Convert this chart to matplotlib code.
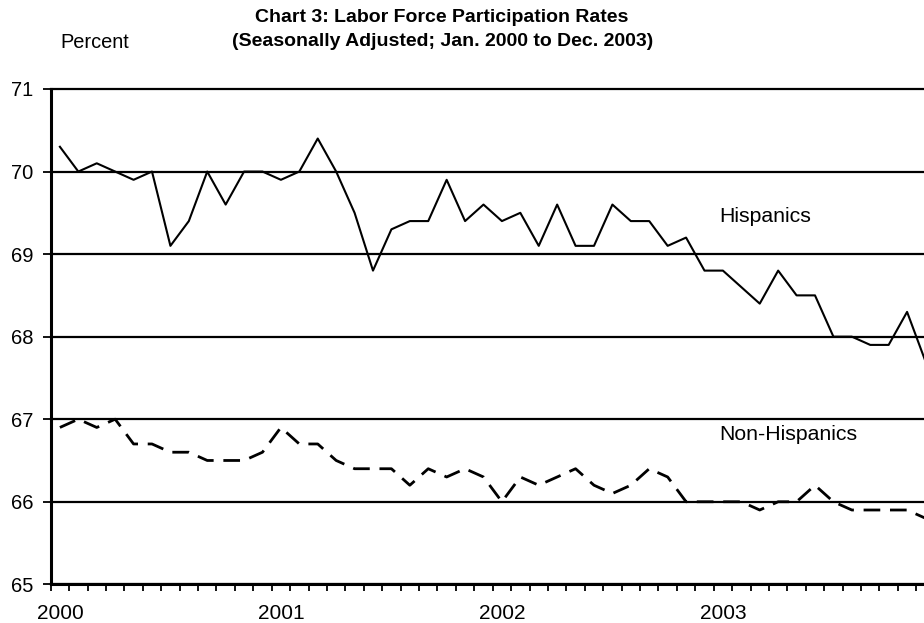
import matplotlib
matplotlib.use("Agg")
import matplotlib.pyplot as plt
import numpy as np

plt.rcParams["font.family"] = ["Liberation Sans", "DejaVu Sans"]

# monthly values, Jan 2000 .. Dec 2003
hispanics = [
    70.3, 70.0, 70.1, 70.0, 69.9, 70.0, 69.1, 69.4, 70.0, 69.6, 70.0, 70.0,
    69.9, 70.0, 70.4, 70.0, 69.5, 68.8, 69.3, 69.4, 69.4, 69.9, 69.4, 69.6,
    69.4, 69.5, 69.1, 69.6, 69.1, 69.1, 69.6, 69.4, 69.4, 69.1, 69.2, 68.8,
    68.8, 68.6, 68.4, 68.8, 68.5, 68.5, 68.0, 68.0, 67.9, 67.9, 68.3, 67.7,
]
non_hispanics = [
    66.9, 67.0, 66.9, 67.0, 66.7, 66.7, 66.6, 66.6, 66.5, 66.5, 66.5, 66.6,
    66.9, 66.7, 66.7, 66.5, 66.4, 66.4, 66.4, 66.2, 66.4, 66.3, 66.4, 66.3,
    66.0, 66.3, 66.2, 66.3, 66.4, 66.2, 66.1, 66.2, 66.4, 66.3, 66.0, 66.0,
    66.0, 66.0, 65.9, 66.0, 66.0, 66.2, 66.0, 65.9, 65.9, 65.9, 65.9, 65.8,
]
years = ["2000", "2001", "2002", "2003"]
y_ticks = [65, 66, 67, 68, 69, 70, 71]


def plot():
    fig = plt.figure(figsize=(9.24, 6.23), dpi=100)
    ax = fig.add_axes([50.7 / 924, 38.7 / 623, 884 / 924, 495.3 / 623])

    x = np.arange(len(hispanics))
    ax.plot(x, hispanics, color="black", lw=1.5, zorder=3)
    ax.plot(x, non_hispanics, color="black", lw=2.0, dashes=(6, 3.5), zorder=3)

    ax.set_xlim(-0.5, 47.5)
    ax.set_ylim(65, 71)
    ax.set_yticks(y_ticks)
    ax.set_yticklabels([str(v) for v in y_ticks], fontsize=14.5)
    ax.set_xticks([0, 12, 24, 36])
    ax.set_xticklabels(years, fontsize=15)
    ax.set_xticks(np.arange(-0.5, 48, 1), minor=True)
    ax.tick_params(axis="x", which="major", length=0, pad=14.5)
    ax.tick_params(axis="x", which="minor", length=5, width=1.3, direction="out")
    ax.tick_params(axis="y", length=6, width=1.3, direction="out", pad=6.5)

    ax.yaxis.grid(True, color="black", lw=1.6)
    for line in ax.get_ygridlines():
        line.set_clip_on(False)
    for side in ("top", "right"):
        ax.spines[side].set_visible(False)
    for side in ("left", "bottom"):
        ax.spines[side].set_linewidth(2.2)
        ax.spines[side].set_zorder(4)

    ax.text(35.8, 69.45, "Hispanics", fontsize=15.3, va="center", ha="left")
    ax.text(35.8, 66.82, "Non-Hispanics", fontsize=15.3, va="center", ha="left")

    fig.text(442 / 924, 1 - 18 / 623, "Chart 3: Labor Force Participation Rates",
             fontsize=14, fontweight="bold", ha="center", va="center")
    fig.text(443 / 924, 1 - 42 / 623, "(Seasonally Adjusted; Jan. 2000 to Dec. 2003)",
             fontsize=14, fontweight="bold", ha="center", va="center")
    fig.text(60 / 924, 1 - 42 / 623, "Percent", fontsize=14.4, ha="left", va="center")

    fig.savefig("out.png", dpi=100)


if __name__ == "__main__":
    plot()
